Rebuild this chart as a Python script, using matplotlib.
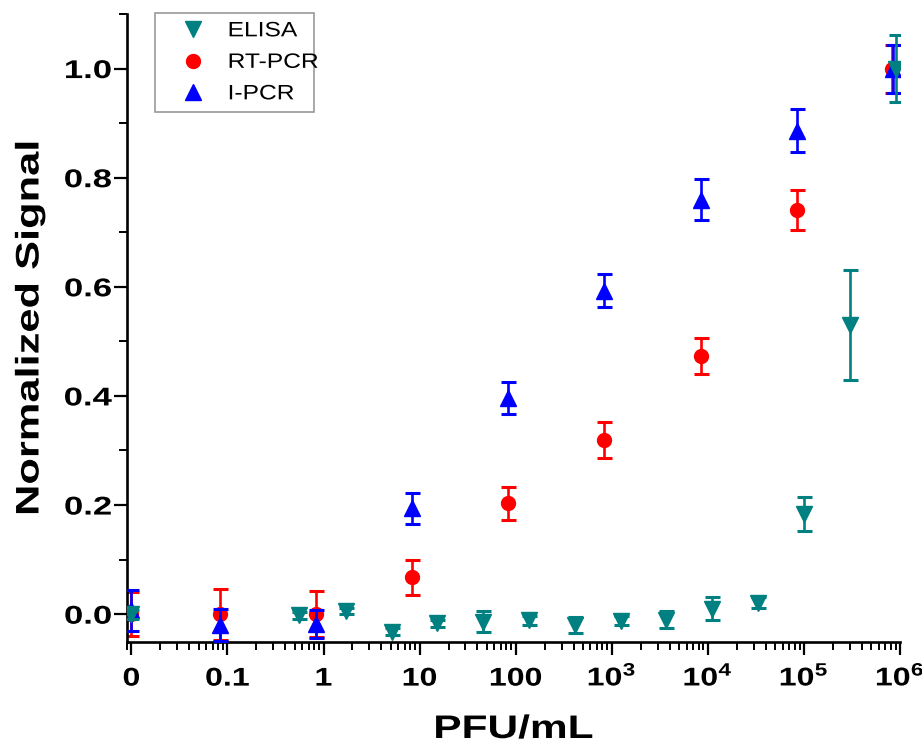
import matplotlib
matplotlib.use("Agg")
import matplotlib.pyplot as plt
from matplotlib.lines import Line2D
from matplotlib.ticker import LogLocator, NullFormatter, MultipleLocator
from matplotlib.patheffects import AbstractPathEffect
from matplotlib.transforms import Affine2D

plt.rcParams['font.family'] = ['Liberation Sans', 'DejaVu Sans']
plt.rcParams['mathtext.fontset'] = 'custom'
plt.rcParams['mathtext.rm'] = 'Liberation Sans:bold'
plt.rcParams['mathtext.bf'] = 'Liberation Sans:bold'


class Stretch(AbstractPathEffect):
    """Widen glyphs along the text direction, keeping an anchor fixed."""
    def __init__(self, sx, anchor=0.5):
        super().__init__()
        self.sx = sx
        self.anchor = anchor

    def draw_path(self, renderer, gc, tpath, affine, rgbFace=None):
        ext = tpath.get_extents()
        a = ext.x0 + self.anchor * (ext.x1 - ext.x0)
        t = Affine2D().translate(-a, 0).scale(self.sx, 1).translate(a, 0)
        renderer.draw_path(gc, tpath, t + affine, rgbFace)


# ---- data (x = 0.01 stands for the "0" sample) ----
elisa_x = [0.01, 0.56, 1.7, 5.1, 15, 46, 137, 412, 1235, 3700, 11100, 33300, 100000, 300000, 900000]
elisa_y = [0.0, -0.002, 0.006, -0.032, -0.017, -0.014, -0.011, -0.020, -0.012, -0.010, 0.010, 0.021, 0.184, 0.53, 1.0]
elisa_e = [0.008, 0.006, 0.006, 0.006, 0.006, 0.019, 0.008, 0.015, 0.008, 0.015, 0.021, 0.010, 0.031, 0.10, 0.062]

rt_x = [0.01, 0.084, 0.84, 8.4, 84, 840, 8400, 84000, 820000]
rt_y = [0.0, 0.0, 0.0, 0.068, 0.203, 0.320, 0.473, 0.741, 1.0]
rt_e = [0.040, 0.047, 0.042, 0.032, 0.030, 0.033, 0.033, 0.037, 0.044]

ipcr_x = [0.01, 0.084, 0.84, 8.4, 84, 840, 8400, 84000, 850000]
ipcr_y = [0.007, -0.020, -0.018, 0.194, 0.396, 0.593, 0.760, 0.886, 1.0]
ipcr_e = [0.037, 0.030, 0.025, 0.028, 0.030, 0.030, 0.038, 0.039, 0.044]

xticks = [0.01, 0.1, 1, 10, 100, 1e3, 1e4, 1e5, 1e6]
xticklabels = ['0', '0.1', '1', '10', '100', r'$10^3$', r'$10^4$', r'$10^5$', r'$10^6$']

teal = '#008080'
red = '#FF0000'
blue = '#0000FF'

fig = plt.figure(figsize=(9.22, 7.49), dpi=100)
ax = fig.add_axes([127/922, 1 - 642/749, (900 - 127)/922, (642 - 14)/749])

common = dict(linestyle='none', capsize=5.4, capthick=2.2, elinewidth=1.9)
ax.errorbar(rt_x, rt_y, yerr=rt_e, color=red, marker='o', markersize=10, zorder=2, **common)
ax.errorbar(ipcr_x, ipcr_y, yerr=ipcr_e, color=blue, marker='^', markersize=11, zorder=3, **common)
ax.errorbar(elisa_x, elisa_y, yerr=elisa_e, color=teal, marker='v', markersize=11, zorder=4, **common)

ax.set_xscale('log')
ax.set_xlim(0.0090, 1e6)
ax.set_ylim(-0.051, 1.10)

ax.set_xticks(xticks)
ax.set_xticklabels(xticklabels)
ax.xaxis.set_minor_locator(LogLocator(base=10, subs=range(2, 10), numticks=30))
ax.xaxis.set_minor_formatter(NullFormatter())
ax.yaxis.set_major_locator(MultipleLocator(0.2))
ax.yaxis.set_minor_locator(MultipleLocator(0.1))
ax.yaxis.set_major_formatter(plt.FuncFormatter(lambda v, p: f'{v:.1f}'))

for s in ['top', 'right']:
    ax.spines[s].set_visible(False)
for s in ['left', 'bottom']:
    ax.spines[s].set_linewidth(1.9)

ax.tick_params(axis='both', which='major', direction='out', length=9.4, width=1.6, labelsize=18.5)
ax.tick_params(axis='both', which='minor', direction='out', length=5.5, width=1.4)
ax.tick_params(axis='y', which='major', pad=1.5)
ax.tick_params(axis='x', which='major', pad=22)

for lab in ax.get_yticklabels():
    lab.set_fontweight('bold')
    lab.set_path_effects([Stretch(1.35, anchor=1.0)])
for lab in ax.get_xticklabels():
    lab.set_fontweight('bold')
    lab.set_va('baseline')
    lab.set_path_effects([Stretch(1.25, anchor=0.5)])

xl = ax.set_xlabel('PFU/mL', fontsize=23.5, fontweight='bold')
ax.xaxis.set_label_coords(0.5, -(738 - 642) / (642 - 14))
xl.set_va('baseline')
xl.set_path_effects([Stretch(1.3, anchor=0.5)])

yl = ax.set_ylabel('Normalized Signal', fontsize=23.5, fontweight='bold')
ax.yaxis.set_label_coords(-(128 - 31) / (900 - 127), 0.5)
yl.set_va('center')
yl.set_path_effects([Stretch(1.33, anchor=0.5)])

handles = [
    Line2D([], [], color=teal, marker='v', linestyle='none', markersize=11),
    Line2D([], [], color=red, marker='o', linestyle='none', markersize=10),
    Line2D([], [], color=blue, marker='^', linestyle='none', markersize=11),
]
leg = ax.legend(handles, ['ELISA', 'RT-PCR', 'I-PCR'], loc='upper left',
                bbox_to_anchor=(155/922, 1 - 13/749), bbox_transform=fig.transFigure,
                fontsize=15, frameon=True, fancybox=False, edgecolor='#808080',
                handlelength=2.8, handletextpad=0.3, labelspacing=0.6,
                borderpad=0.4, borderaxespad=0)
leg.get_frame().set_linewidth(1.2)
for t in leg.get_texts():
    t.set_path_effects([Stretch(1.18, anchor=0.0)])

fig.savefig('out.png', dpi=100)
